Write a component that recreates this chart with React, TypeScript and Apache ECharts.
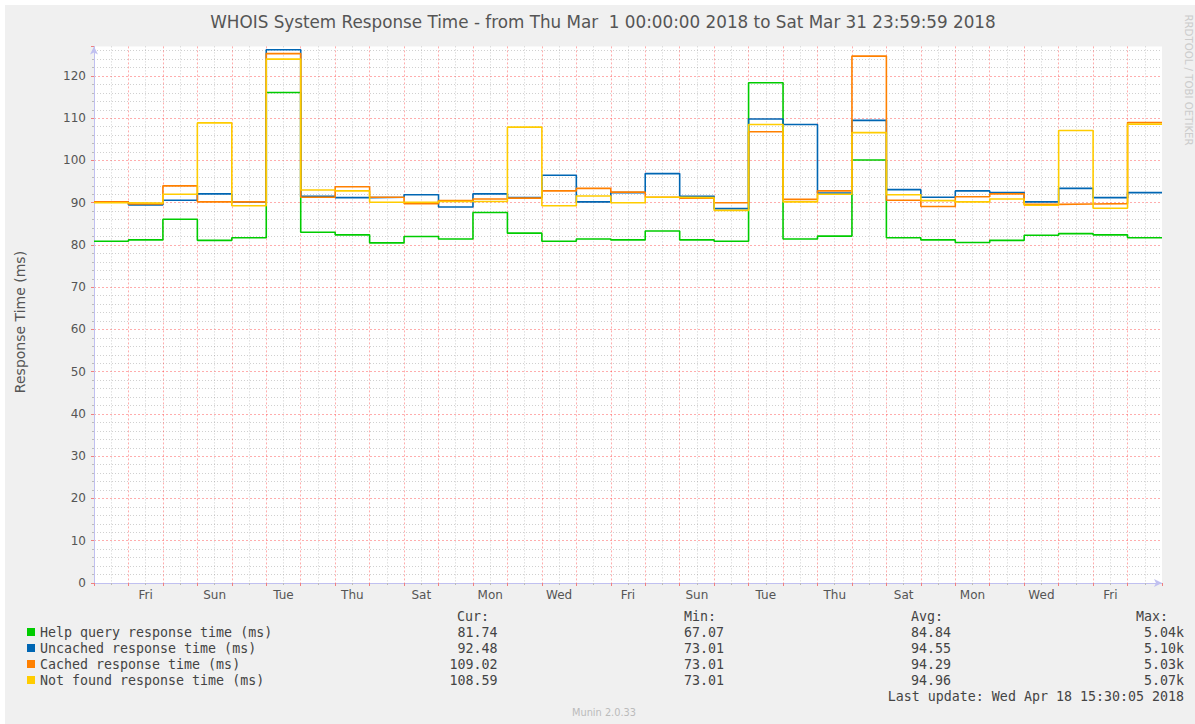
import React, { useEffect, useRef } from 'react';
import * as echarts from 'echarts';

// Day-of-week for each day of March 2018 (tick labels drawn every second day)
const dayNames = [
  'Thu', 'Fri', 'Sat', 'Sun', 'Mon', 'Tue', 'Wed',
  'Thu', 'Fri', 'Sat', 'Sun', 'Mon', 'Tue', 'Wed',
  'Thu', 'Fri', 'Sat', 'Sun', 'Mon', 'Tue', 'Wed',
  'Thu', 'Fri', 'Sat', 'Sun', 'Mon', 'Tue', 'Wed',
  'Thu', 'Fri', 'Sat',
];

const seriesNames = [
  'Help query response time (ms)',
  'Uncached response time (ms)',
  'Cached response time (ms)',
  'Not found response time (ms)',
];
const seriesColors = ['#00cc00', '#0066b3', '#ff8000', '#ffcc00'];

// Daily values (ms), Mar 1 .. Mar 31
const helpQuery = [
  80.9, 81.2, 86.1, 81.1, 81.7, 116.1, 83.0, 82.4, 80.5, 82.0,
  81.4, 87.7, 82.8, 80.9, 81.4, 81.2, 83.3, 81.2, 80.9, 118.4,
  81.4, 82.1, 100.1, 81.7, 81.2, 80.6, 81.1, 82.3, 82.7, 82.4, 81.7,
];
const uncached = [
  90.2, 89.5, 90.6, 92.1, 90.2, 126.2, 91.5, 91.2, 91.3, 91.9,
  89.0, 92.1, 91.2, 96.5, 90.2, 92.4, 96.9, 91.5, 88.6, 109.8,
  108.5, 92.3, 109.5, 93.1, 91.3, 92.8, 92.4, 90.2, 93.4, 91.2, 92.4,
];
const cached = [
  90.2, 89.7, 94.0, 90.2, 90.2, 125.3, 91.3, 93.8, 91.3, 89.8,
  90.5, 90.9, 91.1, 92.8, 93.4, 92.5, 91.3, 91.1, 90.0, 106.8,
  90.8, 92.8, 124.7, 90.6, 89.1, 91.4, 92.1, 89.6, 89.7, 89.8, 109.0,
];
const notFound = [
  90.0, 89.9, 92.0, 108.9, 89.3, 124.0, 93.0, 92.8, 90.1, 90.1,
  90.3, 90.3, 107.9, 89.3, 91.6, 90.0, 91.3, 91.2, 88.2, 108.5,
  90.2, 92.0, 106.6, 91.9, 90.5, 90.2, 90.9, 89.4, 107.1, 88.7, 108.6,
];

const curValues = ['81.74', '92.48', '109.02', '108.59'];
const minValues = ['67.07', '73.01', '73.01', '73.01'];
const avgValues = ['84.84', '94.55', '94.29', '94.96'];
const maxValues = ['5.04k', '5.10k', '5.03k', '5.07k'];

const titleText =
  'WHOIS System Response Time - from Thu Mar  1 00:00:00 2018 to Sat Mar 31 23:59:59 2018';
const yAxisTitle = 'Response Time (ms)';
const lastUpdate = 'Last update: Wed Apr 18 15:30:05 2018';
const watermark = 'RRDTOOL / TOBI OETIKER';
const footer = 'Munin 2.0.33';

export default function App() {
  const ref = useRef<HTMLDivElement>(null);

  useEffect(() => {
    if (!ref.current) return;
    const chart = echarts.init(ref.current, null, { renderer: 'svg' });
    const OX = 5;
    const OY = 5;
    const sans = 'DejaVu Sans';
    const mono = 'DejaVu Sans Mono';
    const txt = '#444';
    const monoSize = 13.3;

    const allData = [helpQuery, uncached, cached, notFound];
    const toStep = (arr: number[]) => {
      const pts: number[][] = arr.map((v, i) => [i, v]);
      pts.push([arr.length, arr[arr.length - 1]]);
      return pts;
    };

    const rowY = [632, 648, 664, 680];
    const graphics: any[] = [
      {
        type: 'text', x: 603 - OX, y: 22 - OY,
        style: { text: titleText, fontFamily: sans, fontSize: 16.8, fill: '#555', align: 'center', verticalAlign: 'middle' },
      },
      {
        type: 'text', x: 20 - OX, y: 322 - OY, rotation: Math.PI / 2,
        style: { text: yAxisTitle, fontFamily: sans, fontSize: 14, fill: '#555', align: 'center', verticalAlign: 'middle' },
      },
      {
        type: 'text', x: 1188 - OX, y: 80 - OY, rotation: -Math.PI / 2,
        style: { text: watermark, fontFamily: sans, fontSize: 10.2, fill: '#cccccc', align: 'center', verticalAlign: 'middle' },
      },
      {
        type: 'text', x: 604 - OX, y: 712 - OY,
        style: { text: footer, fontFamily: sans, fontSize: 9.8, fill: '#bbbbbb', align: 'center', verticalAlign: 'middle' },
      },
      {
        type: 'text', x: 1184 - OX, y: 696 - OY,
        style: { text: lastUpdate, fontFamily: mono, fontSize: monoSize, fill: txt, align: 'right', verticalAlign: 'middle' },
      },
    ];
    const headers = [
      { t: 'Cur:', x: 457 },
      { t: 'Min:', x: 684 },
      { t: 'Avg:', x: 911 },
      { t: 'Max:', x: 1136 },
    ];
    headers.forEach((h) =>
      graphics.push({
        type: 'text', x: h.x - OX, y: 616 - OY,
        style: { text: h.t, fontFamily: mono, fontSize: monoSize, fill: txt, align: 'left', verticalAlign: 'middle' },
      })
    );
    const cols = [
      { vals: curValues, x: 497.5, align: 'right' },
      { vals: minValues, x: 684, align: 'left' },
      { vals: avgValues, x: 911, align: 'left' },
      { vals: maxValues, x: 1184, align: 'right' },
    ];
    cols.forEach((c) =>
      c.vals.forEach((v, i) =>
        graphics.push({
          type: 'text', x: c.x - OX, y: rowY[i] - OY,
          style: { text: v, fontFamily: mono, fontSize: monoSize, fill: txt, align: c.align, verticalAlign: 'middle' },
        })
      )
    );

    const axisColor = '#c0c0f0';
    const majorGrid = { color: 'rgba(255,0,0,0.32)', type: [2, 2] as any, width: 1 };
    const minorGrid = { color: 'rgba(120,120,120,0.35)', type: [1, 2] as any, width: 1 };

    chart.setOption({
      animation: false,
      backgroundColor: '#f0f0f0',
      grid: {
        left: 89, right: 33, top: 41.4, bottom: 141,
        show: true, backgroundColor: '#ffffff', borderWidth: 0,
        containLabel: false, outerBoundsMode: 'none',
      },
      legend: {
        orient: 'vertical', left: 22, top: 619, padding: 0, itemGap: 0,
        itemWidth: 8, itemHeight: 8, icon: 'rect', selectedMode: false,
        data: seriesNames,
        textStyle: { fontFamily: mono, fontSize: monoSize, color: txt, lineHeight: 16 },
      },
      xAxis: [
        {
          type: 'value', min: 0, max: 31, interval: 1, position: 'bottom',
          axisLine: {
            show: true, onZero: false, lineStyle: { color: axisColor, width: 1 },
            symbol: ['none', 'arrow'], symbolSize: [6, 8],
          },
          axisTick: { show: true, length: 3, lineStyle: { color: '#f08080' } },
          minorTick: { show: true, splitNumber: 2, length: 2, lineStyle: { color: '#bbbbbb' } },
          axisLabel: { show: false },
          splitLine: { show: true, showMinLine: false, showMaxLine: false, lineStyle: majorGrid },
          minorSplitLine: { show: true, lineStyle: minorGrid },
        },
        {
          type: 'category', data: dayNames, position: 'bottom', boundaryGap: true,
          axisLine: { show: false }, axisTick: { show: false }, splitLine: { show: false },
          axisLabel: {
            interval: (i: number) => i % 2 === 1,
            color: '#555', fontFamily: sans, fontSize: 12, margin: 6,
          },
        },
      ],
      yAxis: {
        type: 'value', min: 0, max: 127, interval: 10,
        axisLine: {
          show: true, onZero: false, lineStyle: { color: axisColor, width: 1 },
          symbol: ['none', 'arrow'], symbolSize: [6, 8],
        },
        axisTick: { show: true, length: 3, lineStyle: { color: '#f08080' } },
        minorTick: { show: true, splitNumber: 5, length: 2, lineStyle: { color: '#bbbbbb' } },
        axisLabel: {
          formatter: (v: number) => (v % 10 === 0 ? String(v) : ''),
          showMaxLabel: false, color: '#555', fontFamily: sans, fontSize: 12, margin: 8,
        },
        splitLine: { show: true, showMinLine: false, showMaxLine: false, lineStyle: majorGrid },
        minorSplitLine: { show: true, lineStyle: minorGrid },
      },
      series: allData.map((arr, i) => ({
        type: 'line',
        name: seriesNames[i],
        data: toStep(arr),
        step: 'end',
        symbol: 'none',
        showSymbol: false,
        xAxisIndex: 0,
        yAxisIndex: 0,
        color: seriesColors[i],
        lineStyle: { width: 1.6, color: seriesColors[i] },
        itemStyle: { color: seriesColors[i] },
        z: 2 + i,
      })),
      graphic: { elements: graphics },
    });

    return () => chart.dispose();
  }, []);

  return (
    <div style={{ position: 'absolute', left: 0, top: 0, width: 1195, height: 724, background: '#ffffff' }}>
      <div ref={ref} style={{ position: 'absolute', left: 5, top: 5, width: 1190, height: 719 }} />
    </div>
  );
}
